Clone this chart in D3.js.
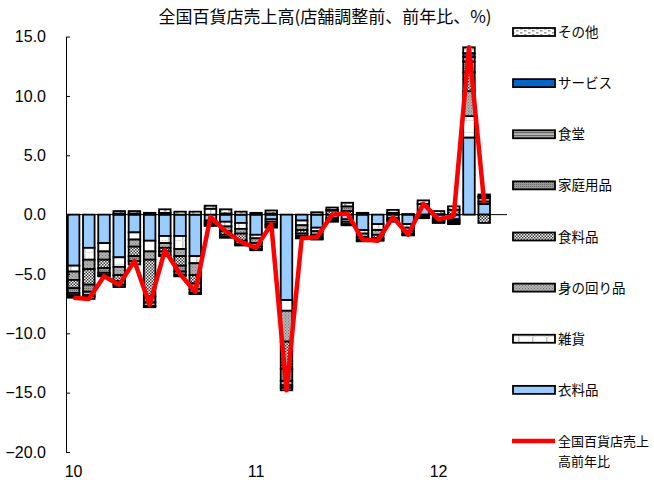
<!DOCTYPE html>
<html>
<head>
<meta charset="utf-8">
<script src="https://cdn.jsdelivr.net/npm/d3@7"></script>
<style>
  body { margin: 0; background: #fff; }
  svg { display: block; }
  text { font-family: "Noto Sans CJK JP", "Noto Sans", sans-serif; fill: #000; }
  .num { font-family: "Liberation Sans", Arial, sans-serif; }
</style>
</head>
<body>
<svg id="chart" width="654" height="488"></svg>
<script>
// Monthly categories, Jan 2010 – May 2012 (last slot left empty)
const months = [
  "2010-01","2010-02","2010-03","2010-04","2010-05","2010-06","2010-07","2010-08","2010-09","2010-10","2010-11","2010-12",
  "2011-01","2011-02","2011-03","2011-04","2011-05","2011-06","2011-07","2011-08","2011-09","2011-10","2011-11","2011-12",
  "2012-01","2012-02","2012-03","2012-04","2012-05"
];
const yearTicks = ["2010-01", "2011-01", "2012-01"];
const yearLabels = ["10", "11", "12"];
const yTicks = [15, 10, 5, 0, -5, -10, -15, -20];

// Contribution by product category (percentage points)
const clothing  = [-4.3,-2.8,-2.4,-3.6,-1.5,-2.2,-1.8,-1.8,-3.5,-0.5,-0.6,-0.7,-1.7,-0.4,-7.2,-0.5,-1.1,-0.3,-0.4,-1.3,-0.8,-0.3,-0.8, 0.9,-0.3,-0.4, 6.5, 0.9];
const goods     = [-0.5,-1.0,-0.7,-0.8,-0.6,-0.9,-0.6,-1.1,-0.6, 0.5,-0.4,-0.5,-0.3,-0.2,-0.9,-0.4,-0.3,-0.1,-0.2,-0.3,-0.5,-0.1,-0.3,-0.1,-0.15,-0.15,1.8, 0.2];
const personal  = [-0.7,-0.8,-0.7,-0.7,-0.6,-0.7,-0.4,-0.6,-1.0,-0.15,-0.4,-0.4,-0.4,-0.2,-2.6,-0.4,-0.3,-0.1,-0.2,-0.3,-0.4,-0.1,-0.3,-0.1,-0.1,-0.15,2.1, 0.3];
const food      = [-0.7,-1.3,-0.7,-0.5,-0.8,-3.1,-0.3,-0.8,-0.7,-0.1,-0.3,-0.6,-0.3,-0.1,-2.3,-0.3,-0.2, 0.35,0.3,-0.2,-0.3,-0.1,-0.2,-0.1,-0.1, 0.4, 1.6,-0.7];
const household = [-0.4,-0.6,-0.4,-0.3,-0.4,-0.5,-0.3,-0.5,-0.5,-0.15,-0.2,-0.3,-0.2,-0.15,-1.0,-0.2,-0.15,-0.05,0.4,-0.1,-0.15,0.1,-0.1, 0,-0.05,-0.1, 0.9, 0.1];
const dining    = [-0.2,-0.3,-0.2,-0.2,-0.3,-0.3,-0.1,-0.3,-0.3,-0.05,-0.05,-0.1,-0.1,-0.05,-0.4,-0.1,-0.05,-0.05,-0.1,-0.05,-0.05,0.05,-0.05,0, 0, 0, 0.4, 0.05];
const services  = [-0.1,-0.1,-0.05,0.1, 0.1,-0.1, 0.15,-0.1,-0.1, 0, 0.1, 0, 0, 0.1,-0.2,-0.05,0, 0.05,0, 0, 0, 0, 0, 0, 0.05,0, 0.3, 0];
const other     = [-0.1,-0.2,-0.05,0.2, 0.2, 0.15,0.3, 0.25,0.25,0.25,0.35,0.25,0.15,0.25,-0.2,-0.05,0.2, 0.2, 0.3, 0.15,0, 0.25,0.05,0.3, 0.25,0.3, 0.5, 0.15];
// Total year-on-year change of department store sales (%)
const total     = [-7.0,-7.1,-5.2,-5.9,-3.9,-7.6,-3.0,-5.0,-6.5,-0.2,-1.4,-2.3,-2.8,-0.8,-14.8,-2.0,-1.9,0.0,0.1,-2.1,-2.2,-0.2,-1.7,0.9,-0.4,-0.1,14.1,1.0];

const seriesNames = ["衣料品", "雑貨", "身の回り品", "食料品", "家庭用品", "食堂", "サービス", "その他"];
const seriesValues = [clothing, goods, personal, food, household, dining, services, other];
const seriesFill = ["#99ccff", "url(#p-goods)", "url(#p-personal)", "url(#p-food)", "url(#p-household)", "url(#p-dining)", "#0066cc", "url(#p-other)"];
const lineName = ["全国百貨店売上", "高前年比"];

const svg = d3.select("#chart");
const plot = { left: 66, right: 507, top: 36.6, bottom: 452 };

// ---- fill patterns ----
const defs = svg.append("defs");
function pattern(id, w, h) {
  return defs.append("pattern").attr("id", id).attr("patternUnits", "userSpaceOnUse")
    .attr("width", w).attr("height", h);
}
{
  const p = pattern("p-goods", 14, 12);
  p.append("rect").attr("width", 14).attr("height", 12).attr("fill", "#fff");
  p.append("rect").attr("x", 0).attr("width", 1.5).attr("height", 12).attr("fill", "#c4c4c4");
  p.append("rect").attr("y", 0).attr("width", 14).attr("height", 1).attr("fill", "#e2e2e2");
}
{
  const p = pattern("p-personal", 3, 3);
  p.append("rect").attr("width", 3).attr("height", 3).attr("fill", "#b0b0b0");
  p.append("rect").attr("width", 1).attr("height", 1).attr("fill", "#7a7a7a");
  p.append("rect").attr("x", 1.5).attr("y", 1.5).attr("width", 1).attr("height", 1).attr("fill", "#8a8a8a");
}
{
  const p = pattern("p-food", 3, 3);
  p.append("rect").attr("width", 3).attr("height", 3).attr("fill", "#fff");
  p.append("rect").attr("width", 1.5).attr("height", 1.5).attr("fill", "#333");
  p.append("rect").attr("x", 1.5).attr("y", 1.5).attr("width", 1.5).attr("height", 1.5).attr("fill", "#333");
}
{
  const p = pattern("p-household", 2, 2);
  p.append("rect").attr("width", 2).attr("height", 2).attr("fill", "#9a9a9a");
  p.append("rect").attr("width", 1).attr("height", 1).attr("fill", "#666");
}
{
  const p = pattern("p-dining", 4, 3);
  p.append("rect").attr("width", 4).attr("height", 3).attr("fill", "#b8b8b8");
  p.append("rect").attr("width", 4).attr("height", 1.2).attr("fill", "#666");
}
{
  const p = pattern("p-other", 8, 4);
  p.append("rect").attr("width", 8).attr("height", 4).attr("fill", "#fff");
  p.append("rect").attr("width", 2.5).attr("height", 1.5).attr("fill", "#999");
  p.append("rect").attr("x", 4).attr("y", 2).attr("width", 2.5).attr("height", 1.5).attr("fill", "#999");
}

// ---- scales ----
const x = d3.scaleBand().domain(months).range([plot.left, plot.right])
  .paddingInner(0.24).paddingOuter(0.12);
const y = d3.scaleLinear().domain([-20, 15]).range([plot.bottom, plot.top]);

// ---- data table and stack ----
const rows = months.slice(0, total.length).map((m, i) => {
  const r = { month: m, total: total[i] };
  seriesNames.forEach((k, s) => { r[k] = seriesValues[s][i]; });
  return r;
});
const stacked = d3.stack().keys(seriesNames).offset(d3.stackOffsetDiverging)(rows);

// zero line
svg.append("line")
  .attr("x1", plot.left).attr("x2", plot.right)
  .attr("y1", y(0)).attr("y2", y(0))
  .attr("stroke", "#000").attr("stroke-width", 1);

// ---- stacked bars ----
const layers = svg.append("g").selectAll("g").data(stacked).join("g")
  .attr("fill", (d, i) => seriesFill[i]);
layers.selectAll("rect")
  .data(d => d.filter(s => Math.abs(s[1] - s[0]) > 1e-9))
  .join("rect")
  .attr("x", d => x(d.data.month))
  .attr("width", x.bandwidth())
  .attr("y", d => y(Math.max(d[0], d[1])))
  .attr("height", d => Math.abs(y(d[0]) - y(d[1])))
  .attr("stroke", "#000")
  .attr("stroke-width", 1.8);

// ---- y axis ----
const yAxis = d3.axisLeft(y).tickValues(yTicks).tickFormat(d3.format(".1f"))
  .tickSizeInner(-4).tickSizeOuter(0).tickPadding(20);
const ya = svg.append("g").attr("transform", `translate(${plot.left},0)`).call(yAxis);
ya.select(".domain").attr("stroke", "#000").attr("stroke-width", 1);
ya.selectAll(".tick line").attr("stroke", "#000");
ya.selectAll(".tick text").attr("class", "num").attr("font-size", 16).attr("fill", "#000");

// ---- x labels (years) ----
svg.append("g").selectAll("text").data(yearTicks).join("text")
  .attr("class", "num")
  .attr("x", d => x(d) + x.bandwidth() / 2)
  .attr("y", 477)
  .attr("text-anchor", "middle")
  .attr("font-size", 16)
  .text((d, i) => yearLabels[i]);

// ---- total line ----
const line = d3.line()
  .x(d => x(d.month) + x.bandwidth() / 2)
  .y(d => y(d.total));
svg.append("path").datum(rows)
  .attr("d", line)
  .attr("fill", "none")
  .attr("stroke", "#ff0000")
  .attr("stroke-width", 4.5)
  .attr("stroke-linejoin", "round");

// ---- title ----
svg.append("text")
  .attr("x", 325).attr("y", 23)
  .attr("text-anchor", "middle")
  .attr("font-size", 17)
  .text("全国百貨店売上高(店舗調整前、前年比、%)");

// ---- legend ----
const legendKeys = seriesNames.slice().reverse().concat(["line"]);
const ly = d3.scalePoint().domain(legendKeys).range([32, 441]);
const lg = svg.append("g");
seriesNames.forEach((name, i) => {
  lg.append("rect")
    .attr("x", 513).attr("y", ly(name) - 4)
    .attr("width", 42).attr("height", 8)
    .attr("fill", seriesFill[i])
    .attr("stroke", "#000").attr("stroke-width", 1.8);
  lg.append("text")
    .attr("x", 558).attr("y", ly(name) + 5)
    .attr("font-size", 13.5)
    .text(name);
});
lg.append("line")
  .attr("x1", 512).attr("x2", 555)
  .attr("y1", ly("line")).attr("y2", ly("line"))
  .attr("stroke", "#ff0000").attr("stroke-width", 4.5);
lg.selectAll("text.ln").data(lineName).join("text")
  .attr("class", "ln")
  .attr("x", 558)
  .attr("y", (d, i) => ly("line") + 5 + i * 20)
  .attr("font-size", 13)
  .text(d => d);
</script>
</body>
</html>
